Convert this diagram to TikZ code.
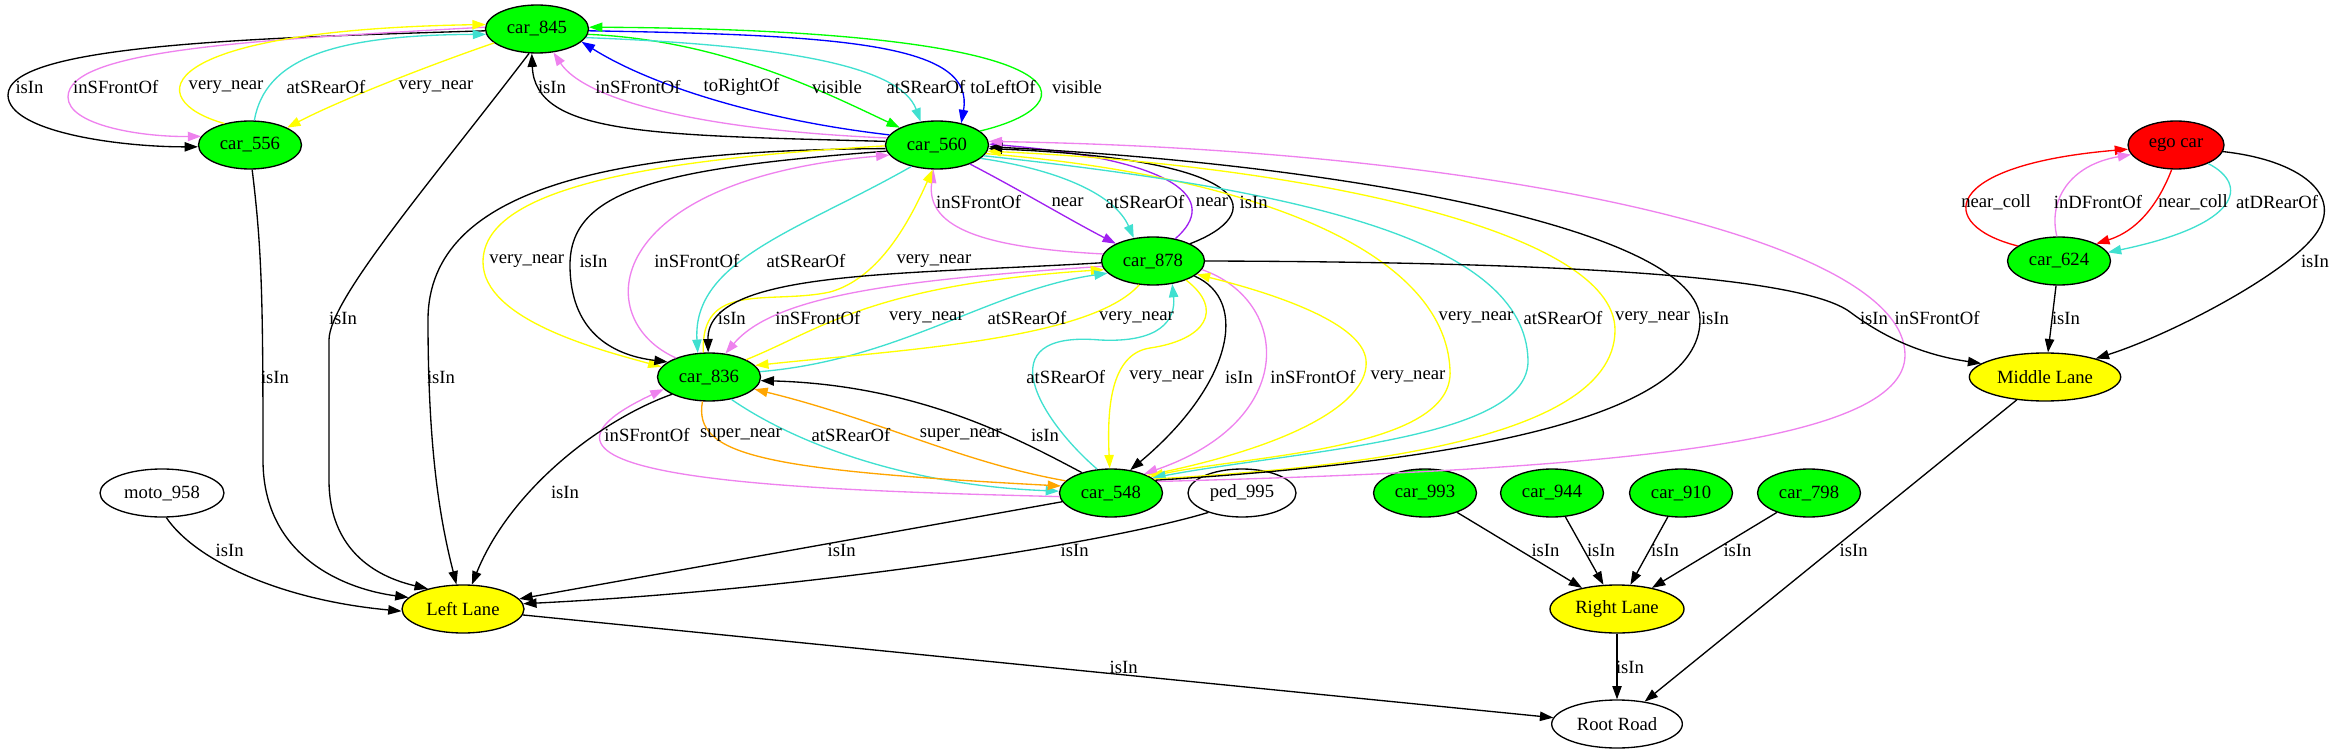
\documentclass[tikz,border=0pt]{standalone}
\usepackage{fontspec}
\setmainfont{Liberation Serif}
\usetikzlibrary{shapes.geometric,arrows.meta}
\definecolor{gvgreen}{HTML}{00FF00}
\definecolor{gvyellow}{HTML}{FFFF00}
\definecolor{gvred}{HTML}{FF0000}
\definecolor{gvviolet}{HTML}{EE82EE}
\definecolor{gvturq}{HTML}{40E0D0}
\definecolor{gvblue}{HTML}{0000FF}
\definecolor{gvpurple}{HTML}{A020F0}
\definecolor{gvorange}{HTML}{FFA500}
\tikzset{
  nd/.style={ellipse, draw=black, line width=1pt, inner sep=0pt, minimum height=36pt, font=\fontsize{14pt}{16pt}\selectfont},
  car/.style={nd, fill=gvgreen, minimum width=77.25pt},
  lane/.style={nd, fill=gvyellow},
  wnode/.style={nd, fill=white},
  lbl/.style={font=\fontsize{14pt}{16pt}\selectfont, inner sep=0pt},
  edg/.style={line width=1pt, -{Triangle[length=10pt,width=7pt]}},
}
\begin{document}
\begin{tikzpicture}[x=0.75pt,y=-0.75pt]
\path[use as bounding box] (0,0) rectangle (2336,755);
% nodes
\node[car] (n845) at (537,29) {car\_845};
\node[car] (n556) at (250,145) {car\_556};
\node[car] (n560) at (937,145) {car\_560};
\node[car] (n878) at (1153,261) {car\_878};
\node[car] (n836) at (709,377) {car\_836};
\node[car] (n548) at (1111,493) {car\_548};
\node[wnode, minimum width=81pt] (ped) at (1242,493) {ped\_995};
\node[wnode, minimum width=93pt] (moto) at (162,493) {moto\_958};
\node[lane, minimum width=91.5pt] (lleft) at (463,609) {Left Lane};
\node[nd, fill=gvred, minimum width=72pt] (ego) at (2176,145) {ego car};
\node[car] (n624) at (2059,261) {car\_624};
\node[lane, minimum width=113.5pt] (lmid) at (2045,377) {Middle Lane};
\node[car] (n993) at (1425,493) {car\_993};
\node[car] (n944) at (1552,493) {car\_944};
\node[car] (n910) at (1681,493) {car\_910};
\node[car] (n798) at (1809,493) {car\_798};
\node[lane, minimum width=100.5pt] (lright) at (1617,609) {Right Lane};
\node[wnode, minimum width=98pt] (root) at (1617,724) {Root Road};
% car_845 <-> car_556
\draw[edg] (n845.182) .. controls (250,38) and (8,45) .. (8,95) .. controls (8,132) and (120,147) .. (n556.182);
\draw[edg,gvviolet] (n845.178) .. controls (250,40) and (68,50) .. (68,97) .. controls (68,125) and (140,137) .. (n556.170);
\draw[edg,gvyellow] (n556.140) .. controls (140,100) and (150,30) .. (n845.175);
\draw[edg,gvturq] (n556.80) .. controls (265,60) and (330,35) .. (n845.186);
\draw[edg,gvyellow] (n845.198) .. controls (430,65) and (340,100) .. (n556.25);
% car_560 <-> car_845
\draw[edg] (n560.176) .. controls (650,135) and (535,135) .. (n845.258);
\draw[edg,gvviolet] (n560.172) .. controls (700,130) and (585,100) .. (n845.305);
\draw[edg,gvblue] (n560.168) .. controls (760,120) and (650,85) .. (n845.344);
\draw[edg,gvgreen] (n845.354) .. controls (720,40) and (820,90) .. (n560.155);
\draw[edg,gvturq] (n845.350) .. controls (780,45) and (900,65) .. (n560.125);
\draw[edg,gvblue] (n845.358) .. controls (850,35) and (975,45) .. (n560.42);
\draw[edg,gvgreen] (n560.18) .. controls (1090,105) and (1100,30) .. (n845.2);
% car_560 <-> car_878
\draw[edg,gvviolet] (n878.172) .. controls (990,248) and (925,230) .. (n560.262);
\draw[edg,gvpurple] (n560.330) .. controls (1020,190) and (1070,220) .. (n878.155);
\draw[edg,gvturq] (n560.343) .. controls (1060,170) and (1115,195) .. (n878.130);
\draw[edg,gvpurple] (n878.45) .. controls (1220,200) and (1180,160) .. (n560.1);
\draw[edg] (n878.25) .. controls (1265,215) and (1265,160) .. (n560.356);
% car_560 <-> car_836, Left Lane
\draw[edg] (n560.184) .. controls (620,150) and (428,185) .. (428,320) .. controls (428,450) and (440,520) .. (lleft.105);
\draw[edg,gvyellow] (n560.181) .. controls (640,160) and (483,190) .. (483,262) .. controls (483,320) and (600,350) .. (n836.168);
\draw[edg] (n560.187) .. controls (660,168) and (570,190) .. (570,265) .. controls (570,330) and (610,355) .. (n836.160);
\draw[edg,gvviolet] (n836.150) .. controls (590,320) and (600,180) .. (n560.192);
\draw[edg,gvturq] (n560.220) .. controls (800,230) and (692,260) .. (n836.115);
\draw[edg,gvyellow] (n836.103) .. controls (700,280) and (770,305) .. (830,292) .. controls (880,278) and (910,220) .. (n560.260);
% car_878 <-> car_836
\draw[edg] (n878.182) .. controls (900,275) and (707,270) .. (n836.92);
\draw[edg,gvviolet] (n878.186) .. controls (900,280) and (775,295) .. (n836.55);
\draw[edg,gvyellow] (n836.25) .. controls (820,330) and (870,285) .. (n878.190);
\draw[edg,gvturq] (n836.6) .. controls (900,360) and (990,290) .. (n878.195);
\draw[edg,gvyellow] (n878.240) .. controls (1090,340) and (900,350) .. (n836.14);
% car_548 <-> car_836
\draw[edg] (n548.145) .. controls (1020,440) and (920,385) .. (n836.356);
\draw[edg,gvorange] (n548.165) .. controls (960,462) and (880,420) .. (n836.345);
\draw[edg,gvturq] (n836.315) .. controls (790,440) and (900,485) .. (n548.178);
\draw[edg,gvorange] (n836.255) .. controls (693,455) and (760,470) .. (n548.172);
\draw[edg,gvviolet] (n548.184) .. controls (800,490) and (470,480) .. (n836.195);
% car_878 <-> car_548
\draw[edg,gvturq] (n548.120) .. controls (1040,420) and (985,330) .. (1100,340) .. controls (1160,343) and (1176,320) .. (n878.310);
\draw[edg,gvyellow] (n878.330) .. controls (1225,310) and (1205,340) .. (1150,348) .. controls (1110,354) and (1107,410) .. (n548.93);
\draw[edg] (n878.340) .. controls (1250,300) and (1232,385) .. (n548.50);
\draw[edg,gvviolet] (n878.350) .. controls (1290,300) and (1300,420) .. (n548.30);
\draw[edg,gvyellow] (n548.26) .. controls (1300,445) and (1370,400) .. (1366,360) .. controls (1362,320) and (1260,290) .. (n878.343);
% car_560 <-> car_548 (long)
\draw[edg,gvyellow] (n560.350) .. controls (1250,175) and (1445,250) .. (1450,370) .. controls (1455,450) and (1250,455) .. (n548.23);
\draw[edg,gvturq] (n560.347) .. controls (1300,190) and (1525,240) .. (1528,360) .. controls (1530,440) and (1300,450) .. (n548.20);
\draw[edg,gvyellow] (n548.18) .. controls (1300,470) and (1615,450) .. (1615,330) .. controls (1615,230) and (1300,165) .. (n560.353);
\draw[edg] (n548.16) .. controls (1450,462) and (1700,420) .. (1700,320) .. controls (1700,230) and (1350,165) .. (n560.358);
\draw[edg,gvviolet] (n548.14) .. controls (1600,470) and (1905,445) .. (1905,355) .. controls (1905,240) and (1500,150) .. (n560.4);
% car_878 -> Middle Lane
\draw[edg] (n878.0) .. controls (1550,262) and (1800,275) .. (1850,312) .. controls (1890,342) and (1930,356) .. (lmid.168);
% ego car cluster
\draw[edg,gvred] (n624.160) .. controls (1935,225) and (1940,165) .. (ego.185);
\draw[edg,gvviolet] (n624.95) .. controls (2048,200) and (2070,165) .. (ego.192);
\draw[edg,gvred] (ego.260) .. controls (2160,200) and (2140,230) .. (n624.25);
\draw[edg,gvturq] (ego.330) .. controls (2250,185) and (2240,225) .. (n624.10);
\draw[edg] (ego.352) .. controls (2300,160) and (2345,195) .. (2315,235) .. controls (2285,275) and (2170,335) .. (lmid.20);
\draw[edg] (n624) -- (lmid);
\draw[edg] (lmid) -- (root);
% Right Lane
\draw[edg] (n993) -- (lright);
\draw[edg] (n944) -- (lright);
\draw[edg] (n910) -- (lright);
\draw[edg] (n798) -- (lright);
\draw[edg] (lright) -- (root);
% Left Lane
\draw[edg] (lleft) -- (root);
\draw[edg] (n548) -- (lleft);
\draw[edg] (ped.210) .. controls (1100,545) and (800,590) .. (lleft.5);
\draw[edg] (moto.280) .. controls (195,560) and (280,600) .. (lleft.182);
\draw[edg] (n556.275) .. controls (262,250) and (263,300) .. (263,460) .. controls (263,560) and (350,590) .. (lleft.168);
\draw[edg] (n845.252) .. controls (430,183) and (329,300) .. (329,340) -- (329,480) .. controls (329,560) and (390,580) .. (lleft.150);
\draw[edg] (n836.205) .. controls (600,420) and (510,490) .. (lleft.70);
% labels
\node[lbl] (L1) at (29.5,87) {isIn};
\node[lbl] (L2) at (115.7,87) {inSFrontOf};
\node[lbl] (L3) at (226,87) {very\_near};
\node[lbl] (L4) at (326,87) {atSRearOf};
\node[lbl] (L5) at (436,87) {very\_near};
\node[lbl] (L6) at (552,87) {isIn};
\node[lbl] (L7) at (638,87) {inSFrontOf};
\node[lbl] (L8) at (741.5,87) {toRightOf};
\node[lbl] (L9) at (837,87) {visible};
\node[lbl] (L10) at (926,87) {atSRearOf};
\node[lbl] (L11) at (1003,87) {toLeftOf};
\node[lbl] (L12) at (1077,87) {visible};
\node[lbl] (L13) at (978.6,202) {inSFrontOf};
\node[lbl] (L14) at (1067.6,202) {near};
\node[lbl] (L15) at (1145,202) {atSRearOf};
\node[lbl] (L16) at (1212,202) {near};
\node[lbl] (L17) at (1253.6,202) {isIn};
\node[lbl] (L18) at (1996,202) {near\_coll};
\node[lbl] (L19) at (2098,202) {inDFrontOf};
\node[lbl] (L20) at (2193,202) {near\_coll};
\node[lbl] (L21) at (2277,202) {atDRearOf};
\node[lbl] (L22) at (526.8,261) {very\_near};
\node[lbl] (L23) at (593.5,261) {isIn};
\node[lbl] (L24) at (696.8,261) {inSFrontOf};
\node[lbl] (L25) at (805.9,261) {atSRearOf};
\node[lbl] (L26) at (933.9,261) {very\_near};
\node[lbl] (L27) at (2315,261) {isIn};
\node[lbl] (L28) at (343,318) {isIn};
\node[lbl] (L29) at (731.8,318) {isIn};
\node[lbl] (L30) at (817.9,318) {inSFrontOf};
\node[lbl] (L31) at (926.4,318) {very\_near};
\node[lbl] (L32) at (1026.9,318) {atSRearOf};
\node[lbl] (L33) at (1136.5,318) {very\_near};
\node[lbl] (L34) at (1476,318) {very\_near};
\node[lbl] (L35) at (1563,318) {atSRearOf};
\node[lbl] (L36) at (1652.5,318) {very\_near};
\node[lbl] (L37) at (1715,318) {isIn};
\node[lbl] (L38) at (1874,318) {isIn};
\node[lbl] (L39) at (1937,318) {inSFrontOf};
\node[lbl] (L40) at (2066,318) {isIn};
\node[lbl] (L41) at (275,377) {isIn};
\node[lbl] (L42) at (441,377) {isIn};
\node[lbl] (L43) at (1065.8,377) {atSRearOf};
\node[lbl] (L44) at (1166.6,377) {very\_near};
\node[lbl] (L45) at (1239,377) {isIn};
\node[lbl] (L46) at (1313,377) {inSFrontOf};
\node[lbl] (L47) at (1408,377) {very\_near};
\node[lbl] (L48) at (647,435) {inSFrontOf};
\node[lbl] (L49) at (741,435) {super\_near};
\node[lbl] (L50) at (851,435) {atSRearOf};
\node[lbl] (L51) at (960.7,435) {super\_near};
\node[lbl] (L52) at (1045,435) {isIn};
\node[lbl] (L53) at (565,492) {isIn};
\node[lbl] (L54) at (229.7,550) {isIn};
\node[lbl] (L55) at (841.6,550) {isIn};
\node[lbl] (L56) at (1074.6,550) {isIn};
\node[lbl] (L57) at (1545.5,550) {isIn};
\node[lbl] (L58) at (1601,550) {isIn};
\node[lbl] (L59) at (1665,550) {isIn};
\node[lbl] (L60) at (1737.5,550) {isIn};
\node[lbl] (L61) at (1853.6,550) {isIn};
\node[lbl] (L62) at (1123.6,667) {isIn};
\node[lbl] (L63) at (1630,667) {isIn};
\end{tikzpicture}
\end{document}
